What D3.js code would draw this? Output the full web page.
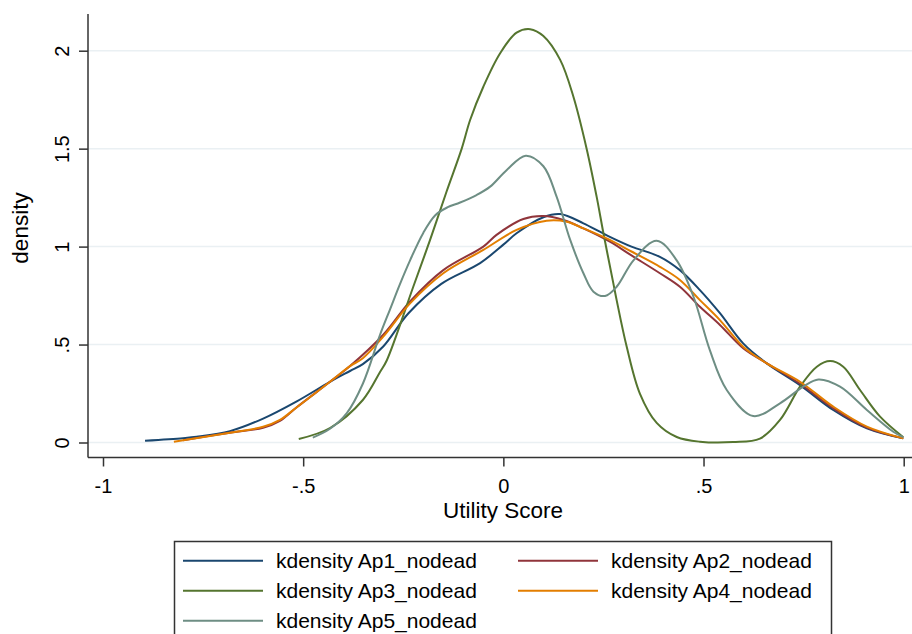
<!DOCTYPE html>
<html>
<head>
<meta charset="utf-8">
<script src="https://cdn.jsdelivr.net/npm/d3@7"></script>
<style>
  html, body { margin: 0; padding: 0; background: #fff; }
  svg { display: block; }
  text { font-family: "Liberation Sans", Arial, sans-serif; fill: #000; }
</style>
</head>
<body>
<svg id="chart" width="912" height="634"></svg>
<script>
// ---- data ----
const seriesNames = ["kdensity Ap1_nodead", "kdensity Ap2_nodead", "kdensity Ap3_nodead", "kdensity Ap4_nodead", "kdensity Ap5_nodead"];
const seriesColors = ["#1a476f", "#90353b", "#55752f", "#e37e00", "#6e8e84"];

const ap1 = [[-0.895,0.009],[-0.80,0.022],[-0.766,0.029],[-0.683,0.058],[-0.6,0.122],[-0.516,0.21],[-0.433,0.31],[-0.383,0.365],[-0.351,0.40],[-0.30,0.49],[-0.237,0.66],[-0.155,0.81],[-0.058,0.916],[0.0,1.01],[0.033,1.068],[0.10,1.15],[0.142,1.166],[0.20,1.119],[0.241,1.076],[0.266,1.05],[0.32,1.0],[0.391,0.948],[0.441,0.88],[0.491,0.778],[0.541,0.66],[0.599,0.506],[0.658,0.404],[0.741,0.293],[0.824,0.166],[0.908,0.072],[0.999,0.021]];
const ap2 = [[-0.80,0.012],[-0.683,0.05],[-0.60,0.075],[-0.558,0.11],[-0.516,0.18],[-0.433,0.31],[-0.383,0.39],[-0.30,0.55],[-0.233,0.72],[-0.150,0.88],[-0.050,1.0],[-0.017,1.06],[0.050,1.141],[0.100,1.156],[0.150,1.136],[0.200,1.093],[0.266,1.025],[0.32,0.955],[0.391,0.864],[0.441,0.795],[0.491,0.693],[0.541,0.60],[0.599,0.481],[0.658,0.404],[0.741,0.30],[0.824,0.175],[0.908,0.076],[0.999,0.021]];
const ap3 = [[-0.511,0.018],[-0.433,0.074],[-0.351,0.217],[-0.308,0.36],[-0.291,0.42],[-0.225,0.795],[-0.183,1.034],[-0.142,1.28],[-0.104,1.50],[-0.083,1.646],[-0.050,1.816],[-0.008,1.987],[0.033,2.092],[0.067,2.11],[0.100,2.075],[0.142,1.953],[0.175,1.765],[0.208,1.50],[0.233,1.255],[0.250,1.068],[0.275,0.81],[0.283,0.727],[0.308,0.49],[0.341,0.25],[0.383,0.10],[0.433,0.028],[0.491,0.004],[0.574,0.002],[0.641,0.02],[0.691,0.115],[0.741,0.285],[0.783,0.387],[0.816,0.416],[0.849,0.387],[0.891,0.268],[0.941,0.132],[0.999,0.027]];
const ap4 = [[-0.823,0.004],[-0.683,0.05],[-0.60,0.08],[-0.558,0.115],[-0.516,0.18],[-0.433,0.31],[-0.383,0.39],[-0.351,0.43],[-0.30,0.54],[-0.233,0.71],[-0.150,0.864],[-0.050,0.983],[0.033,1.085],[0.108,1.132],[0.158,1.127],[0.200,1.093],[0.266,1.034],[0.32,0.975],[0.391,0.897],[0.441,0.83],[0.491,0.727],[0.541,0.625],[0.599,0.489],[0.658,0.404],[0.741,0.31],[0.824,0.183],[0.908,0.081],[0.999,0.021]];
const ap5 = [[-0.476,0.025],[-0.433,0.07],[-0.391,0.15],[-0.351,0.30],[-0.308,0.55],[-0.283,0.68],[-0.258,0.81],[-0.233,0.93],[-0.200,1.07],[-0.170,1.16],[-0.140,1.20],[-0.108,1.225],[-0.067,1.263],[-0.033,1.306],[0.008,1.39],[0.056,1.464],[0.100,1.41],[0.133,1.255],[0.167,1.034],[0.200,0.864],[0.225,0.77],[0.254,0.748],[0.283,0.795],[0.325,0.93],[0.383,1.03],[0.433,0.93],[0.475,0.744],[0.516,0.47],[0.558,0.268],[0.624,0.135],[0.691,0.20],[0.749,0.285],[0.787,0.322],[0.841,0.285],[0.908,0.166],[0.974,0.055],[0.999,0.027]];

const xTickValues = [-1, -0.5, 0, 0.5, 1];
const xTickLabels = ["-1", "-.5", "0", ".5", "1"];
const yTickValues = [0, 0.5, 1, 1.5, 2];
const yTickLabels = ["0", ".5", "1", "1.5", "2"];
const xTitle = "Utility Score";
const yTitle = "density";

// ---- drawing ----
const series = [ap1, ap2, ap3, ap4, ap5];
const svg = d3.select("#chart");

const x = d3.scaleLinear().domain([-1, 1]).range([103, 903.7]);
const y = d3.scaleLinear().domain([0, 2]).range([442.5, 50.7]);

const plotLeft = 88, plotRight = 912, plotTop = 14, plotBottom = 457.5;

// gridlines
svg.append("g").selectAll("line").data(yTickValues).join("line")
  .attr("x1", plotLeft).attr("x2", plotRight)
  .attr("y1", d => y(d)).attr("y2", d => y(d))
  .attr("stroke", "#eaf0f3").attr("stroke-width", 1.5);

// density curves
const line = d3.line().x(d => x(d[0])).y(d => y(d[1])).curve(d3.curveCatmullRom.alpha(0.5));
svg.append("g").selectAll("path").data(series).join("path")
  .attr("d", line)
  .attr("fill", "none")
  .attr("stroke", (d, i) => seriesColors[i])
  .attr("stroke-width", 2)
  .attr("stroke-linejoin", "round");

// axes
const axisColor = "#333";
const yAxis = d3.axisLeft(y).tickValues(yTickValues).tickFormat((d, i) => yTickLabels[i]).tickSize(9).tickSizeOuter(0);
const gy = svg.append("g").attr("transform", `translate(${plotLeft},0)`).call(yAxis);
gy.select(".domain").remove();
gy.selectAll(".tick line").attr("stroke", axisColor).attr("stroke-width", 1.5);
gy.selectAll(".tick text")
  .attr("font-size", 20).attr("font-family", "Liberation Sans, Arial, sans-serif").attr("fill", "#000")
  .attr("text-anchor", "middle").attr("dy", null).attr("x", null)
  .attr("transform", "translate(-19.5,0) rotate(-90)");

const xAxis = d3.axisBottom(x).tickValues(xTickValues).tickFormat((d, i) => xTickLabels[i]).tickSize(9).tickSizeOuter(0);
const gx = svg.append("g").attr("transform", `translate(0,${plotBottom})`).call(xAxis);
gx.select(".domain").remove();
gx.selectAll(".tick line").attr("stroke", axisColor).attr("stroke-width", 1.5);
gx.selectAll(".tick text")
  .attr("font-size", 20).attr("font-family", "Liberation Sans, Arial, sans-serif").attr("fill", "#000")
  .attr("dy", null).attr("y", 35);

// axis lines
svg.append("line").attr("x1", plotLeft).attr("x2", plotLeft).attr("y1", plotTop).attr("y2", plotBottom)
  .attr("stroke", axisColor).attr("stroke-width", 1.5);
svg.append("line").attr("x1", plotLeft).attr("x2", plotRight).attr("y1", plotBottom).attr("y2", plotBottom)
  .attr("stroke", axisColor).attr("stroke-width", 1.5);

// titles
svg.append("text").attr("x", 503).attr("y", 518).attr("text-anchor", "middle").attr("font-size", 22.5).text(xTitle);
svg.append("text").attr("transform", "translate(28,228) rotate(-90)").attr("text-anchor", "middle").attr("font-size", 22.5).text(yTitle);

// legend
const legend = svg.append("g");
legend.append("rect").attr("x", 174.5).attr("y", 541.5).attr("width", 657).attr("height", 110)
  .attr("fill", "#fff").attr("stroke", axisColor).attr("stroke-width", 1.5);
const legendPos = [[0,0],[1,0],[0,1],[1,1],[0,2]];
const colX = [183, 518], rowY = [560.7, 590.7, 620.7];
seriesNames.forEach((name, i) => {
  const [c, r] = legendPos[i];
  legend.append("line").attr("x1", colX[c]).attr("x2", colX[c] + 80)
    .attr("y1", rowY[r]).attr("y2", rowY[r])
    .attr("stroke", seriesColors[i]).attr("stroke-width", 2);
  legend.append("text").attr("x", colX[c] + 93).attr("y", rowY[r] + 7.5)
    .attr("font-size", 21).text(name);
});
</script>
</body>
</html>
